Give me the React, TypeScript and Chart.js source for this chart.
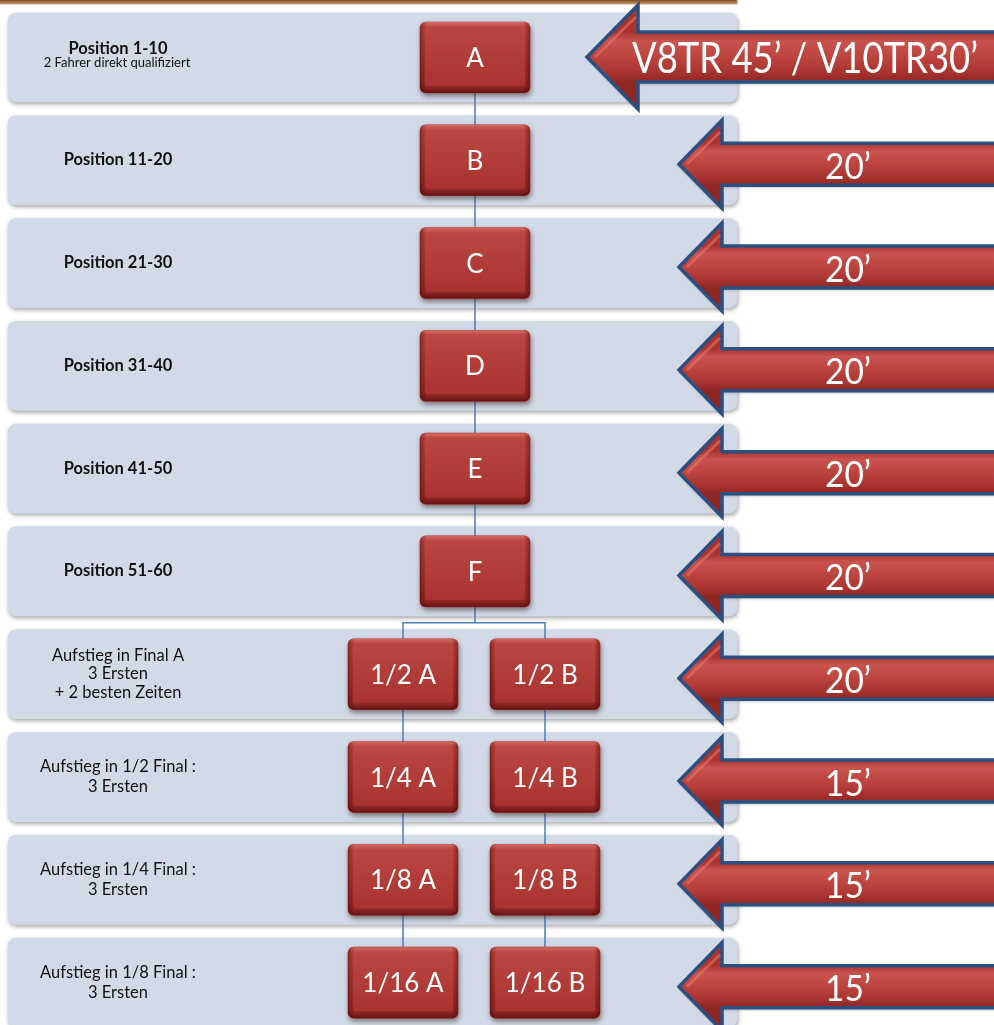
import { useEffect, useRef } from "react";
import { Chart, registerables } from "chart.js";

Chart.register(...registerables);

// ---------- data ----------
const rowSlots = [0, 1, 2, 3, 4, 5, 6, 7, 8, 9];
const rowLabels: string[][] = [
  ["Position 1-10", "2 Fahrer direkt qualifiziert"],
  ["Position 11-20"],
  ["Position 21-30"],
  ["Position 31-40"],
  ["Position 41-50"],
  ["Position 51-60"],
  ["Aufstieg in Final A", "3 Ersten", "+ 2 besten Zeiten"],
  ["Aufstieg in 1/2 Final :", "3 Ersten"],
  ["Aufstieg in 1/4 Final :", "3 Ersten"],
  ["Aufstieg in 1/8 Final :", "3 Ersten"],
];
const rowBold = [true, true, true, true, true, true, false, false, false, false];
const singleHeats = ["A", "B", "C", "D", "E", "F"];
const leftHeats = ["1/2 A", "1/4 A", "1/8 A", "1/16 A"];
const rightHeats = ["1/2 B", "1/4 B", "1/8 B", "1/16 B"];
const durations = [
  "V8TR 45’ / V10TR30’",
  "20’",
  "20’",
  "20’",
  "20’",
  "20’",
  "20’",
  "15’",
  "15’",
  "15’",
];

// ---------- layout (x scale units = 0..994) ----------
const X_MAX = 994;
const Y_MIN = -0.559;
const Y_MAX = 9.412;
const PANEL_SPAN: [number, number] = [8, 737];
const FRAME_SPAN: [number, number] = [0, 737];
const COL_SINGLE = 475;
const COL_LEFT = 403;
const COL_RIGHT = 545;
const BOX_HALF = 55;
const TEXT_X = 118;
const SPLIT_Y = 5.5;
const pairStart = singleHeats.length;

function rr(ctx: CanvasRenderingContext2D, x: number, y: number, w: number, h: number, r: number) {
  ctx.beginPath();
  ctx.moveTo(x + r, y);
  ctx.lineTo(x + w - r, y);
  ctx.arcTo(x + w, y, x + w, y + r, r);
  ctx.lineTo(x + w, y + h - r);
  ctx.arcTo(x + w, y + h, x + w - r, y + h, r);
  ctx.lineTo(x + r, y + h);
  ctx.arcTo(x, y + h, x, y + h - r, r);
  ctx.lineTo(x, y + r);
  ctx.arcTo(x, y, x + r, y, r);
  ctx.closePath();
}

const FONT = "Lato, Carlito, 'Open Sans', sans-serif";

const diagramPlugin = {
  id: "diagram",
  beforeDatasetDraw(chart: any, args: any) {
    const label = chart.data.datasets[args.index].label;
    const ctx = chart.ctx as CanvasRenderingContext2D;
    ctx.save();
    if (label === "panels") {
      ctx.shadowColor = "rgba(60,60,60,0.45)";
      ctx.shadowBlur = 4;
      ctx.shadowOffsetY = 2;
      ctx.shadowOffsetX = 1;
    } else if (label !== "frame") {
      ctx.shadowColor = "rgba(40,20,20,0.5)";
      ctx.shadowBlur = 5;
      ctx.shadowOffsetY = 3;
      ctx.shadowOffsetX = 1;
    }
  },
  afterDatasetDraw(chart: any, args: any) {
    const ds = chart.data.datasets[args.index];
    const ctx = chart.ctx as CanvasRenderingContext2D;
    ctx.restore();
    const xs = chart.scales.x;
    const ys = chart.scales.y;
    if (ds.label === "frame") {
      const meta = chart.getDatasetMeta(args.index);
      meta.data.forEach((el: any) => {
        const p = el.getProps(["x", "base", "y", "height"], true);
        const l = Math.min(p.x, p.base);
        const r = Math.max(p.x, p.base);
        const g = ctx.createLinearGradient(0, p.y - p.height / 2, 0, p.y + p.height / 2);
        g.addColorStop(0, "#6e4322");
        g.addColorStop(0.6, "#8c5a30");
        g.addColorStop(1, "#c49a6c");
        ctx.save();
        ctx.fillStyle = g;
        ctx.fillRect(l, p.y - p.height / 2, r - l, p.height);
        ctx.restore();
      });
    } else if (ds.label === "panels") {
      // connectors
      ctx.save();
      ctx.strokeStyle = "#4a7ebb";
      ctx.lineWidth = 1.5;
      const xc = xs.getPixelForValue(COL_SINGLE);
      const xl = xs.getPixelForValue(COL_LEFT);
      const xr = xs.getPixelForValue(COL_RIGHT);
      const ySplit = ys.getPixelForValue(SPLIT_Y);
      const yTop = ys.getPixelForValue(0);
      const yBottom = ys.getPixelForValue(rowSlots[rowSlots.length - 1]);
      ctx.beginPath();
      ctx.moveTo(xc, yTop);
      ctx.lineTo(xc, ySplit);
      ctx.moveTo(xl, yBottom);
      ctx.lineTo(xl, ySplit);
      ctx.lineTo(xr, ySplit);
      ctx.lineTo(xr, yBottom);
      ctx.stroke();
      ctx.restore();
      // row texts
      ctx.save();
      ctx.fillStyle = "#111111";
      ctx.textAlign = "center";
      ctx.textBaseline = "alphabetic";
      const tx = xs.getPixelForValue(TEXT_X);
      rowLabels.forEach((lines, i) => {
        const cy = ys.getPixelForValue(rowSlots[i]);
        if (rowBold[i]) {
          if (lines.length === 1) {
            ctx.font = `bold 16.5px ${FONT}`;
            ctx.fillText(lines[0], tx, cy + 5, 112);
          } else {
            ctx.font = `bold 16.5px ${FONT}`;
            ctx.fillText(lines[0], tx, cy - 3.5, 102);
            ctx.font = `13px ${FONT}`;
            ctx.fillText(lines[1], tx - 1, cy + 9.5, 152);
          }
        } else {
          ctx.font = `16.5px ${FONT}`;
          const n = lines.length;
          const sp = n === 3 ? 18.5 : 20;
          lines.forEach((ln, k) => {
            ctx.fillText(ln, tx, cy + 5 + (k - (n - 1) / 2) * sp);
          });
        }
      });
      ctx.restore();
    } else if (ds.label === "single" || ds.label === "left" || ds.label === "right") {
      const meta = chart.getDatasetMeta(args.index);
      const names = ds.label === "single" ? singleHeats : ds.label === "left" ? leftHeats : rightHeats;
      meta.data.forEach((el: any, i: number) => {
        const p = el.getProps(["x", "base", "y", "height"], true);
        const l = Math.min(p.x, p.base);
        const r = Math.max(p.x, p.base);
        const t = p.y - p.height / 2;
        const b = p.y + p.height / 2;
        const w = r - l;
        const h = b - t;
        ctx.save();
        const g = ctx.createLinearGradient(0, t, 0, b);
        g.addColorStop(0, "#d36a64");
        g.addColorStop(0.07, "#bf4843");
        g.addColorStop(0.5, "#ad3834");
        g.addColorStop(0.9, "#962a27");
        g.addColorStop(1, "#661412");
        rr(ctx, l, t, w, h, 6);
        ctx.fillStyle = g;
        ctx.fill();
        const gh = ctx.createLinearGradient(l, 0, r, 0);
        gh.addColorStop(0, "rgba(70,0,0,0.45)");
        gh.addColorStop(0.06, "rgba(70,0,0,0)");
        gh.addColorStop(0.94, "rgba(70,0,0,0)");
        gh.addColorStop(1, "rgba(70,0,0,0.45)");
        ctx.fillStyle = gh;
        ctx.fill();
        const gi = ctx.createLinearGradient(0, t + 5, 0, b - 7);
        gi.addColorStop(0, "#bb4742");
        gi.addColorStop(1, "#a8332f");
        rr(ctx, l + 5, t + 5, w - 10, h - 12, 3);
        ctx.fillStyle = gi;
        ctx.fill();
        ctx.fillStyle = "#ffffff";
        ctx.font = `26px ${FONT}`;
        ctx.textAlign = "center";
        ctx.textBaseline = "alphabetic";
        ctx.fillText(names[i], (l + r) / 2, p.y + 9.5);
        ctx.restore();
      });
    }
  },
  afterDatasetsDraw(chart: any) {
    const ctx = chart.ctx as CanvasRenderingContext2D;
    const xs = chart.scales.x;
    const ys = chart.scales.y;
    durations.forEach((txt, i) => {
      const first = i === 0;
      const cy = ys.getPixelForValue(rowSlots[i]) + (first ? -0.5 : 4);
      const tip = xs.getPixelForValue(first ? 587 : 679);
      const baseX = xs.getPixelForValue(first ? 638 : 722);
      const end = xs.getPixelForValue(X_MAX) + 10;
      const hh = first ? 52 : 44;
      const sh = first ? 25 : 21;
      ctx.save();
      ctx.beginPath();
      ctx.moveTo(tip, cy);
      ctx.lineTo(baseX, cy - hh);
      ctx.lineTo(baseX, cy - sh);
      ctx.lineTo(end, cy - sh);
      ctx.lineTo(end, cy + sh);
      ctx.lineTo(baseX, cy + sh);
      ctx.lineTo(baseX, cy + hh);
      ctx.closePath();
      const g = ctx.createLinearGradient(0, cy - sh, 0, cy + sh);
      g.addColorStop(0, "#a9332f");
      g.addColorStop(0.18, "#c9534e");
      g.addColorStop(0.45, "#bf4742");
      g.addColorStop(0.8, "#a9342f");
      g.addColorStop(1, "#8e2623");
      ctx.fillStyle = g;
      ctx.shadowColor = "rgba(30,40,70,0.35)";
      ctx.shadowBlur = 3;
      ctx.shadowOffsetY = 2;
      ctx.fill();
      ctx.shadowColor = "transparent";
      ctx.strokeStyle = "#2d4f80";
      ctx.lineWidth = 3.5;
      ctx.lineJoin = "miter";
      ctx.stroke();
      // highlight along the head's upper edge
      ctx.beginPath();
      ctx.moveTo(tip + 8, cy);
      ctx.lineTo(baseX - 2, cy - hh + 12);
      ctx.strokeStyle = "rgba(230,120,110,0.55)";
      ctx.lineWidth = 3;
      ctx.stroke();
      ctx.fillStyle = "#ffffff";
      ctx.textAlign = "center";
      ctx.textBaseline = "alphabetic";
      if (first) {
        ctx.font = `42px ${FONT}`;
        ctx.fillText(txt, xs.getPixelForValue(805), cy + 16, 346);
      } else {
        ctx.font = `37px ${FONT}`;
        ctx.fillText(txt, xs.getPixelForValue(848), cy + 14.5, 46);
      }
      ctx.restore();
    });
  },
};

export default function App() {
  const ref = useRef<HTMLCanvasElement>(null);
  useEffect(() => {
    document.body.style.margin = "0";
    document.body.style.overflow = "hidden";
    const canvas = ref.current!;
    const boxDs = (label: string, col: number, names: string[], start: number) =>
      ({
        label,
        data: names.map((_, i) => ({ x: [col - BOX_HALF, col + BOX_HALF], y: rowSlots[start + i] })),
        barThickness: 71,
        backgroundColor: "#a83430",
        borderRadius: 6,
        borderSkipped: false,
        grouped: false,
        order: 1,
      }) as any;
    const chart = new Chart(canvas, {
      type: "bar",
      data: {
        datasets: [
          {
            label: "frame",
            data: [{ x: FRAME_SPAN, y: Y_MIN }],
            barThickness: 8,
            backgroundColor: "#8a5a30",
            grouped: false,
            order: 5,
          } as any,
          {
            label: "panels",
            data: rowSlots.map((r) => ({ x: PANEL_SPAN, y: r })),
            barThickness: 89,
            backgroundColor: "#d2dae7",
            borderRadius: 8,
            borderSkipped: false,
            grouped: false,
            order: 4,
          } as any,
          boxDs("single", COL_SINGLE, singleHeats, 0),
          boxDs("left", COL_LEFT, leftHeats, pairStart),
          boxDs("right", COL_RIGHT, rightHeats, pairStart),
        ],
      },
      options: {
        indexAxis: "y",
        responsive: false,
        maintainAspectRatio: false,
        animation: false,
        layout: { padding: 0 },
        scales: {
          x: { type: "linear", min: 0, max: X_MAX, display: false, offset: false },
          y: { type: "linear", min: Y_MIN, max: Y_MAX, reverse: true, display: false, offset: false },
        },
        plugins: { legend: { display: false }, tooltip: { enabled: false } },
      } as any,
      plugins: [diagramPlugin as any],
    });
    const fonts: any = (document as any).fonts;
    if (fonts && fonts.load) {
      Promise.all([fonts.load(`bold 16px Lato`), fonts.load(`16px Lato`)])
        .then(() => chart.draw())
        .catch(() => {});
    }
    return () => chart.destroy();
  }, []);
  return (
    <div style={{ width: 994, height: 1025, background: "#ffffff" }}>
      <canvas ref={ref} width={994} height={1025} style={{ display: "block", width: 994, height: 1025 }} />
    </div>
  );
}
